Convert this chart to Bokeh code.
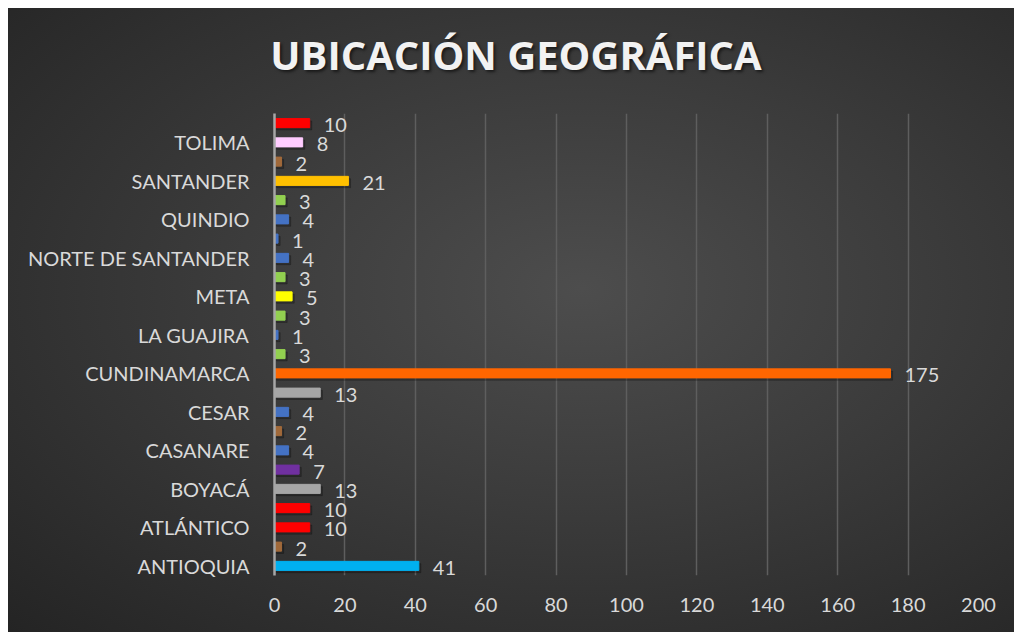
from bokeh.plotting import figure
from bokeh.models import ColumnDataSource, LabelSet, FixedTicker, Range1d, Div
from bokeh.layouts import column
from bokeh.core.properties import value
from bokeh.transform import dodge
from bokeh.embed import file_html
from bokeh.resources import INLINE

# ---- data (bottom to top, as drawn) ----
categories = ["ANTIOQUIA", "", "ATLÁNTICO", "", "BOYACÁ", "", "CASANARE", "",
              "CESAR", "", "CUNDINAMARCA", "", "LA GUAJIRA", "", "META", "",
              "NORTE DE SANTANDER", "", "QUINDIO", "", "SANTANDER", "", "TOLIMA", ""]
values = [41, 2, 10, 10, 13, 7, 4, 2, 4, 13, 175, 3, 1, 3, 5, 3, 4, 1, 4, 3, 21, 2, 8, 10]
colors = ["#00B0F0", "#A0693A", "#FF0000", "#FF0000", "#A6A6A6", "#7030A0", "#4472C4", "#A0693A",
          "#4472C4", "#A6A6A6", "#FF6600", "#92D050", "#4472C4", "#92D050", "#FFFF00", "#92D050",
          "#4472C4", "#4472C4", "#4472C4", "#92D050", "#FFC000", "#A0693A", "#FFCCFF", "#FF0000"]
x_ticks = [0, 20, 40, 60, 80, 100, 120, 140, 160, 180, 200]
title_text = "UBICACIÓN GEOGRÁFICA"

pos = list(range(len(categories)))
source = ColumnDataSource(dict(y=pos, value=values, color=colors,
                               label=[str(v) for v in values]))

W = 1006
TITLE_H = 105
PLOT_H = 624 - TITLE_H

title = Div(text=title_text, width=W, height=TITLE_H, margin=0,
            styles={"font-family": "'Open Sans', sans-serif", "font-size": "40px",
                    "font-weight": "bold", "color": "#F2F2F2", "text-align": "center",
                    "line-height": "94px", "padding-left": "10px", "box-sizing": "border-box",
                    "text-shadow": "2px 2px 3px rgba(0,0,0,0.55)"})

p = figure(width=W, height=PLOT_H, output_backend="svg", toolbar_location=None,
           x_range=Range1d(0, 200), y_range=Range1d(-0.5, len(categories) - 0.5),
           min_border_left=266, min_border_right=36, min_border_top=0, min_border_bottom=57)
p.margin = 0
p.background_fill_color = None
p.border_fill_color = None
p.outline_line_color = None

# soft shadow under bars
p.hbar(y=dodge("y", -0.12), right=dodge("value", 0.6), left=0.6, height=0.47,
       color="black", alpha=0.22, source=source)
p.hbar(y="y", right="value", left=0, height=0.47, color="color", source=source)

labels = LabelSet(x="value", y="y", text="label", source=source, x_offset=14, y_offset=-2,
                  text_baseline="middle", text_color="#D9D9D9", text_font=value("Lato"),
                  text_font_size="20px")
p.add_layout(labels)

# x axis
p.xaxis.ticker = FixedTicker(ticks=x_ticks)
p.xaxis.axis_line_color = None
p.xaxis.major_tick_line_color = None
p.xaxis.minor_tick_line_color = None
p.xaxis.major_label_standoff = 16
p.xaxis.major_label_text_color = "#D9D9D9"
p.xaxis.major_label_text_font = "Lato"
p.xaxis.major_label_text_font_size = "20px"

# y axis
p.yaxis.ticker = FixedTicker(ticks=pos[::2])
p.yaxis.major_label_overrides = {i: categories[i] for i in pos if categories[i]}
p.yaxis.axis_line_color = "#A6A6A6"
p.yaxis.axis_line_width = 2.5
p.yaxis.major_tick_line_color = None
p.yaxis.minor_tick_line_color = None
p.yaxis.major_label_standoff = 19
p.yaxis.major_label_text_color = "#D9D9D9"
p.yaxis.major_label_text_font = "Lato"
p.yaxis.major_label_text_font_size = "20px"

p.xgrid.grid_line_color = "#5E5E5E"
p.xgrid.grid_line_width = 1.5
p.ygrid.grid_line_color = None

layout = column(title, p, spacing=0, margin=(8, 0, 0, 8),
                styles={"background": "radial-gradient(ellipse farthest-corner at 57% 45%, #4d4d4d 0%, #3b3b3b 45%, #242424 100%)"})

open("out.html", "w").write(file_html(layout, INLINE))
